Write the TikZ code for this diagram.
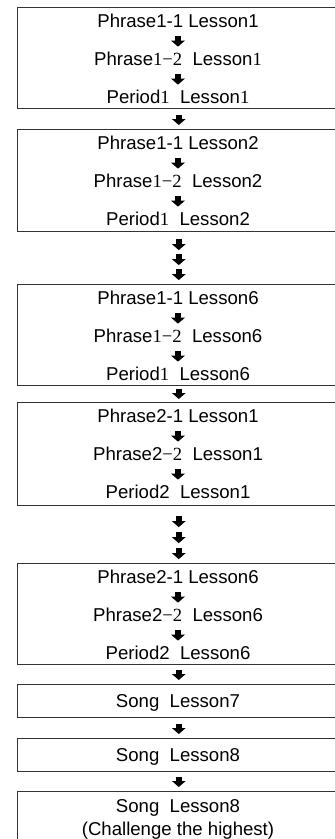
\documentclass[tikz,border=0pt]{standalone}
\usepackage{fontspec}
\setmainfont{Liberation Sans}
\newfontfamily\serifdig{Liberation Serif}
\newcommand{\sdig}[1]{{\serifdig #1}}
\usetikzlibrary{arrows.meta}

\begin{document}
\begin{tikzpicture}[x=1pt,y=1pt,font=\fontsize{18.6}{22.5}\selectfont,
  caja/.style={draw=black!80,line width=1.1pt,minimum width=323.5pt,anchor=north west,inner sep=0pt},
  txt/.style={inner sep=0pt,text height=13.3pt,text depth=0pt},
  flecha/.style={line width=5.5pt,-{Triangle[width=13.5pt,length=6pt]}}]
  \useasboundingbox (0,0) rectangle (335,-839);
  % bloque 1
  \begin{scope}[shift={(0,-7)}]
    \node[caja,minimum height=101pt] (c1) at (16.5,0) {};
    \node[txt] (t1a) at (178,-14) {Phrase1-1 Lesson1};
    \node[txt] (t1b) at (178,-52) {Phrase\sdig{1−2}~ Lesson\sdig{1}};
    \node[txt] (t1c) at (178,-90) {Period\sdig{1}~ Lesson\sdig{1}};
    \draw[flecha] ([yshift=-8pt]t1a.south) -- ([yshift=5.5pt]t1b.north);
    \draw[flecha] ([yshift=-8pt]t1b.south) -- ([yshift=5.5pt]t1c.north);
  \end{scope}
  % bloque 2
  \begin{scope}[shift={(0,-129)}]
    \node[caja,minimum height=102pt] (c2) at (16.5,0) {};
    \node[txt] (t2a) at (178,-14) {Phrase1-1 Lesson2};
    \node[txt] (t2b) at (178,-52) {Phrase\sdig{1−2}~ Lesson2};
    \node[txt] (t2c) at (178,-90) {Period\sdig{1}~ Lesson2};
    \draw[flecha] ([yshift=-8pt]t2a.south) -- ([yshift=5.5pt]t2b.north);
    \draw[flecha] ([yshift=-8pt]t2b.south) -- ([yshift=5.5pt]t2c.north);
  \end{scope}
  % bloque 3
  \begin{scope}[shift={(0,-284)}]
    \node[caja,minimum height=101pt] (c3) at (16.5,0) {};
    \node[txt] (t3a) at (178,-14) {Phrase1-1 Lesson6};
    \node[txt] (t3b) at (178,-52) {Phrase\sdig{1−2}~ Lesson6};
    \node[txt] (t3c) at (178,-90) {Period\sdig{1}~ Lesson6};
    \draw[flecha] ([yshift=-8pt]t3a.south) -- ([yshift=5.5pt]t3b.north);
    \draw[flecha] ([yshift=-8pt]t3b.south) -- ([yshift=5.5pt]t3c.north);
  \end{scope}
  % bloque 4
  \begin{scope}[shift={(0,-402)}]
    \node[caja,minimum height=103pt] (c4) at (16.5,0) {};
    \node[txt] (t4a) at (178,-14) {Phrase2-1 Lesson1};
    \node[txt] (t4b) at (178,-52) {Phrase2\sdig{−2}~ Lesson1};
    \node[txt] (t4c) at (178,-90) {Period2~ Lesson1};
    \draw[flecha] ([yshift=-8pt]t4a.south) -- ([yshift=5.5pt]t4b.north);
    \draw[flecha] ([yshift=-8pt]t4b.south) -- ([yshift=5.5pt]t4c.north);
  \end{scope}
  % bloque 5
  \begin{scope}[shift={(0,-563)}]
    \node[caja,minimum height=101pt] (c5) at (16.5,0) {};
    \node[txt] (t5a) at (178,-14) {Phrase2-1 Lesson6};
    \node[txt] (t5b) at (178,-52) {Phrase2\sdig{−2}~ Lesson6};
    \node[txt] (t5c) at (178,-90) {Period2~ Lesson6};
    \draw[flecha] ([yshift=-8pt]t5a.south) -- ([yshift=5.5pt]t5b.north);
    \draw[flecha] ([yshift=-8pt]t5b.south) -- ([yshift=5.5pt]t5c.north);
  \end{scope}
  % canciones
  \node[caja,minimum height=33pt] (c6) at (16.5,-684) {};
  \node[txt] (t6) at (178,-701) {Song~ Lesson7};
  \node[caja,minimum height=33pt] (c7) at (16.5,-738) {};
  \node[txt] (t7) at (178,-755) {Song~ Lesson8};
  \node[caja,minimum height=70pt] (c8) at (16.5,-791) {};
  \node[txt] (t8a) at (178,-806) {Song~ Lesson8};
  \node[txt] (t8b) at (178,-829) {(Challenge the highest)};
  % flechas entre bloques
  \draw[flecha] ([yshift=-6pt]c1.south) -- ([yshift=4pt]c2.north);
  \foreach \d in {7,22,37}
    \draw[flecha] ([yshift=-\d pt]c2.south) -- ++(0,-11);
  \draw[flecha] ([yshift=-3pt]c3.south) -- ([yshift=3pt]c4.north);
  \foreach \d in {10,26,42}
    \draw[flecha] ([yshift=-\d pt]c4.south) -- ++(0,-11);
  \draw[flecha] ([yshift=-5pt]c5.south) -- ([yshift=4pt]c6.north);
  \draw[flecha] ([yshift=-6pt]c6.south) -- ([yshift=4pt]c7.north);
  \draw[flecha] ([yshift=-5pt]c7.south) -- ([yshift=4pt]c8.north);
\end{tikzpicture}
\end{document}
